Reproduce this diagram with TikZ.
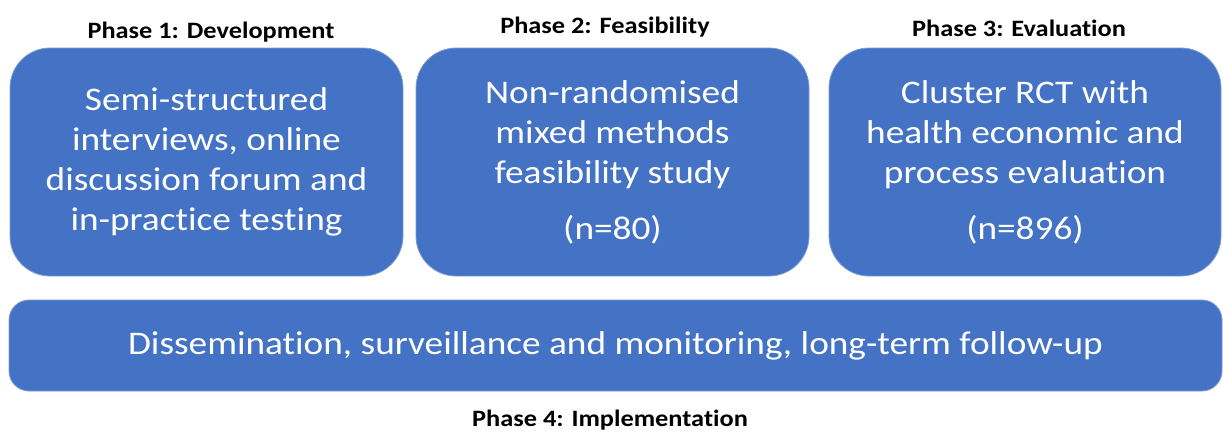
\documentclass[tikz,border=0pt]{standalone}
\usepackage{fontspec}
\setmainfont{Carlito}[Ligatures=NoCommon]
\newfontfamily\boxfont{Carlito}[FakeStretch=1.13, Ligatures=NoCommon]
\newfontfamily\labelfont{Carlito}[FakeStretch=1.12, Ligatures=NoCommon]
\definecolor{boxblue}{HTML}{4472C4}
\definecolor{boxedge}{HTML}{7D9BD6}
\begin{document}
\begin{tikzpicture}[x=1pt,y=-1pt,
  phasebox/.style={draw=boxedge, line width=0.8pt, fill=boxblue, rounded corners=40pt,
    inner sep=0pt, text=white, align=center, font=\boxfont\fontsize{33}{40}\selectfont},
  phaselabel/.style={anchor=base, inner sep=0pt, font=\labelfont\fontsize{23.5}{28}\selectfont\bfseries}]
\useasboundingbox (0,0) rectangle (1223,432);
\node[phasebox, minimum width=393pt, minimum height=228pt] (b1) at (206.5,162)
  {Semi-structured\\interviews, online\\discussion forum and\\in-practice testing};
\node[phasebox, minimum width=393pt, minimum height=228pt] (b2) at (612.5,162)
  {Non-randomised\\mixed methods\\feasibility study\\[16pt](n=80)};
\node[phasebox, minimum width=392pt, minimum height=228pt] (b3) at (1025,162)
  {Cluster RCT with\\health economic and\\process evaluation\\[16pt](n=896)};
\node[phasebox, rounded corners=20pt, minimum width=1213pt, minimum height=91pt] (b4) at (615.5,345.5)
  {Dissemination, surveillance and monitoring, long-term follow-up};
\node[phaselabel] (l1) at (211,38) {Phase 1: Development};
\node[phaselabel] (l2) at (605,33) {Phase 2: Feasibility};
\node[phaselabel] (l3) at (1019,36) {Phase 3: Evaluation};
\node[phaselabel] (l4) at (610,426) {Phase 4: Implementation};
\end{tikzpicture}
\end{document}
